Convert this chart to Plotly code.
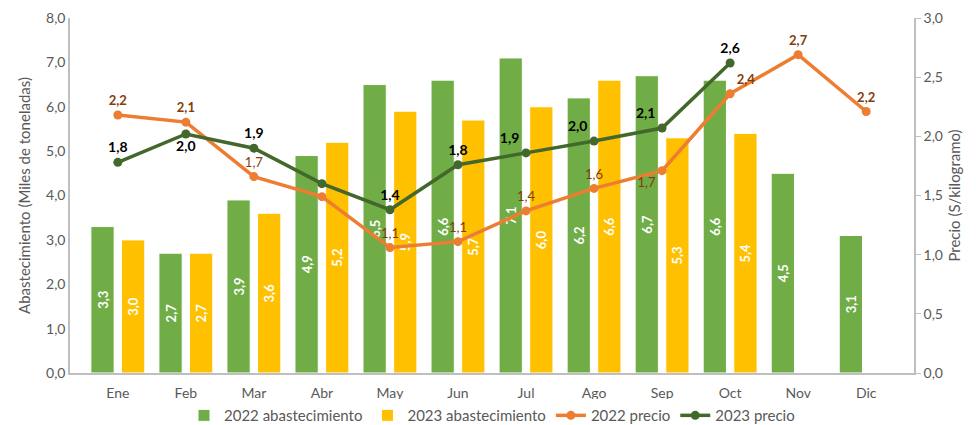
import plotly.graph_objects as go

meses = ["Ene", "Feb", "Mar", "Abr", "May", "Jun", "Jul", "Ago", "Sep", "Oct", "Nov", "Dic"]
abast_2022 = [3.3, 2.7, 3.9, 4.9, 6.5, 6.6, 7.1, 6.2, 6.7, 6.6, 4.5, 3.1]
abast_2023 = [3.0, 2.7, 3.6, 5.2, 5.9, 5.7, 6.0, 6.6, 5.3, 5.4, None, None]
precio_2022 = [2.18, 2.12, 1.66, 1.49, 1.06, 1.11, 1.37, 1.56, 1.71, 2.36, 2.69, 2.21]
precio_2023 = [1.78, 2.02, 1.90, 1.60, 1.38, 1.76, 1.86, 1.96, 2.07, 2.62, None, None]

# months without price labels in the original
sin_etiqueta = {"Abr"}
bold_2022 = {"Ene", "Feb", "Oct", "Nov", "Dic"}

pos_2022 = ["top center"] * 12
pos_2022[8] = "bottom left"
pos_2022[9] = "top right"
pos_2023 = ["top center"] * 12
pos_2023[1] = "bottom center"
pos_2023[6] = "top left"
pos_2023[7] = "top left"
pos_2023[8] = "top left"


def fmt(v):
    return "" if v is None else f"{v:.1f}".replace(".", ",")


FONT = "Lato"
GRAY = "#595959"
AXIS = "#BFBFBF"

txt_a22 = [fmt(v) for v in abast_2022]
txt_a23 = [fmt(v) for v in abast_2023]
txt_p22 = []
for m, v in zip(meses, precio_2022):
    t = "" if m in sin_etiqueta else fmt(v)
    txt_p22.append(f"<b>{t}</b>" if (m in bold_2022 and t) else t)
txt_p23 = ["" if m in sin_etiqueta else f"<b>{fmt(v)}</b>" if v is not None else "" for m, v in zip(meses, precio_2023)]

fig = go.Figure()
fig.add_trace(go.Bar(
    x=meses, y=abast_2022, name="2022 abastecimiento",
    marker=dict(color="#70AD47", line=dict(color="white", width=1)),
    text=txt_a22, textposition="inside", insidetextanchor="middle", textangle=-90,
    textfont=dict(color="white", size=13, family=FONT, weight="bold"),
    yaxis="y",
))
fig.add_trace(go.Bar(
    x=meses, y=abast_2023, name="2023 abastecimiento",
    marker=dict(color="#FFC000", line=dict(color="white", width=1)),
    text=txt_a23, textposition="inside", insidetextanchor="middle", textangle=-90,
    textfont=dict(color="white", size=13, family=FONT, weight="bold"),
    yaxis="y",
))
fig.add_trace(go.Scatter(
    x=meses, y=precio_2022, name="2022 precio", mode="lines+markers+text",
    line=dict(color="#ED7D31", width=3.5), marker=dict(size=9, color="#ED7D31"),
    text=txt_p22, textposition=pos_2022,
    textfont=dict(color="#843C0C", size=13, family=FONT),
    cliponaxis=False, yaxis="y2",
))
fig.add_trace(go.Scatter(
    x=meses, y=precio_2023, name="2023 precio", mode="lines+markers+text",
    line=dict(color="#43682B", width=3.5), marker=dict(size=9, color="#43682B"),
    text=txt_p23, textposition=pos_2023,
    textfont=dict(color="black", size=14, family=FONT),
    cliponaxis=False, yaxis="y2",
))

fig.update_layout(
    width=968, height=417,
    margin=dict(l=62, r=62, t=10, b=52, autoexpand=False),
    paper_bgcolor="white", plot_bgcolor="white",
    font=dict(family=FONT, color=GRAY, size=14),
    barmode="group", bargap=0.10, bargroupgap=0.24,
    separators=", ",
    xaxis=dict(
        showline=True, linecolor=AXIS, linewidth=1.5,
        ticks="outside", ticklen=6, tickcolor="rgba(0,0,0,0)",
        tickfont=dict(size=14, color=GRAY), showgrid=False,
    ),
    yaxis=dict(
        range=[0, 8], dtick=1, tickformat=".1f", showgrid=False, zeroline=False,
        showline=True, linecolor=AXIS, linewidth=1.5, ticks="",
        tickfont=dict(size=14, color=GRAY), ticklabeloverflow="allow",
        title=dict(text="Abastecimiento (Miles de toneladas)", font=dict(size=15, color=GRAY), standoff=12),
    ),
    yaxis2=dict(
        range=[0, 3], dtick=0.5, tickformat=".1f", showgrid=False, zeroline=False,
        overlaying="y", side="right",
        showline=True, linecolor=AXIS, linewidth=1.5, ticks="outside", ticklen=5, tickcolor=AXIS,
        tickfont=dict(size=14, color=GRAY), ticklabeloverflow="allow",
        title=dict(text="Precio (S/kilogramo)", font=dict(size=15, color=GRAY), standoff=8),
    ),
    legend=dict(
        orientation="h", x=0.5, xanchor="center", y=-0.12, yanchor="middle",
        font=dict(size=15, color=GRAY), traceorder="normal",
    ),
    showlegend=True,
)

fig.write_html("out.html")
